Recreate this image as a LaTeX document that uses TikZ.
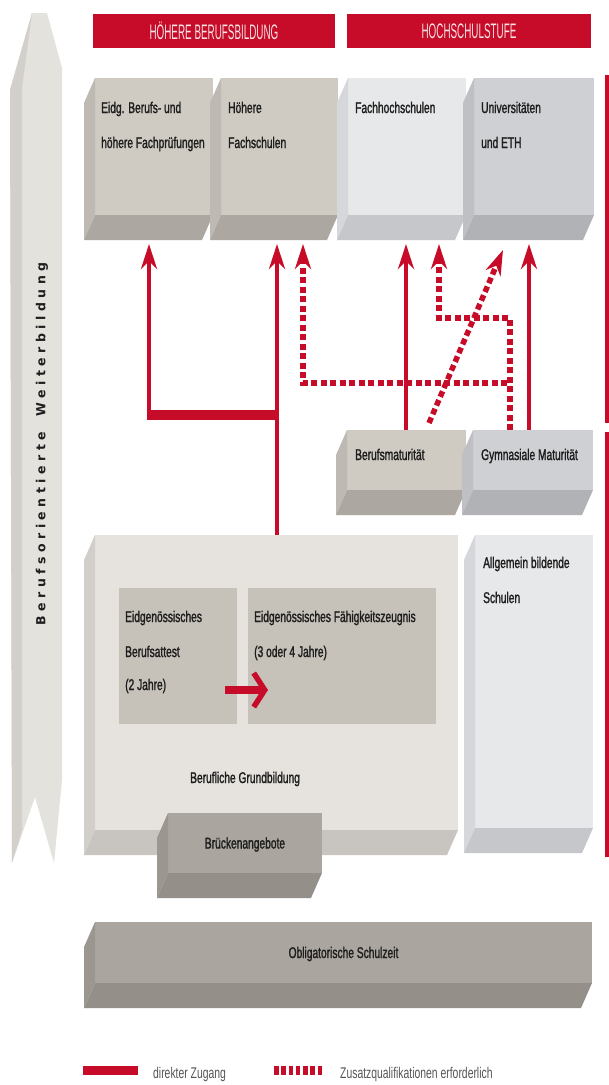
\documentclass[tikz,border=0pt]{standalone}
\usepackage{fontspec}
\setmainfont[FakeStretch=0.66,FakeBold=1.4]{Liberation Sans}
\newfontfamily\legfont[FakeStretch=0.67]{Liberation Sans}
\newfontfamily\headfont[FakeStretch=0.47]{Liberation Sans}
\newfontfamily\vertfont{DejaVu Sans}
\usetikzlibrary{arrows.meta}
\definecolor{chred}{RGB}{198,12,40}
\definecolor{hdrtxt}{RGB}{246,226,229}
\definecolor{txt}{RGB}{30,30,30}
\definecolor{legtxt}{RGB}{85,85,85}
% warm greys
\definecolor{wfront}{RGB}{207,202,194}
\definecolor{wleft}{RGB}{190,185,178}
\definecolor{wbottom}{RGB}{172,167,160}
% light cool
\definecolor{lfront}{RGB}{231,232,234}
\definecolor{lleft}{RGB}{214,215,218}
\definecolor{lbottom}{RGB}{198,199,202}
% mid cool
\definecolor{cfront}{RGB}{206,208,211}
\definecolor{cleft}{RGB}{190,192,195}
\definecolor{cbottom}{RGB}{176,178,181}
% big box
\definecolor{gfront}{RGB}{230,227,222}
\definecolor{gleft}{RGB}{210,207,202}
\definecolor{gbottom}{RGB}{200,197,192}
\definecolor{inner}{RGB}{198,193,185}
% dark warm
\definecolor{dfront}{RGB}{170,165,158}
\definecolor{dleft}{RGB}{155,150,143}
\definecolor{dbottom}{RGB}{148,143,136}
% banner
\definecolor{bfront}{RGB}{228,226,221}
\definecolor{bleft}{RGB}{211,208,203}
\newcommand\boxfaces[3]{%
  \fill[#2] (#1.north west) -- (#1.south west) -- ([shift={(-11,-25)}]#1.south west) -- ([shift={(-11,-25)}]#1.north west) -- cycle;
  \fill[#3] (#1.south west) -- (#1.south east) -- ([shift={(-11,-25)}]#1.south east) -- ([shift={(-11,-25)}]#1.south west) -- cycle;
}
\newcommand\lsp{\kern4.5pt}
\begin{document}
\begin{tikzpicture}[x=1pt,y=1pt,
  face/.style={rectangle, inner sep=0pt, outer sep=0pt, anchor=north west, draw=none},
  hdr/.style={face, fill=chred, minimum height=34pt, text=hdrtxt, font=\headfont\fontsize{21}{21}\selectfont},
  lbl/.style={inner sep=0pt, anchor=base west, text=txt, font=\fontsize{15.5}{18}\selectfont},
  clbl/.style={inner sep=0pt, anchor=base, text=txt, font=\fontsize{15.5}{18}\selectfont},
  leg/.style={inner sep=0pt, anchor=base west, text=legtxt, font=\legfont\fontsize{15.5}{18}\selectfont},
  tip/.style={-{Stealth[length=25pt,width=16pt,inset=8pt]}},
  direct/.style={draw=chred, line width=4.5pt, tip},
  extra/.style={draw=chred, line width=5.5pt, dash pattern=on 6pt off 3.5pt, tip},
]
\useasboundingbox (0,0) rectangle (609,-1085);
\fill[white] (0,0) rectangle (609,-1085);

% left banner
\fill[bfront] (32,-13) -- (47,-13) -- (62,-68) -- (62,-780) -- (54,-863) -- (35,-797) -- (12,-863) -- (10,-90) -- cycle;
\fill[bleft] (32,-13) -- (22,-88) -- (22,-830) -- (12,-863) -- (10,-90) -- cycle;
\node[rotate=90, inner sep=0pt, text=txt, font=\vertfont\bfseries\fontsize{12.5}{14}\selectfont] (banner) at (42,-444)
  {B\lsp e\lsp r\lsp u\lsp f\lsp s\lsp o\lsp r\lsp i\lsp e\lsp n\lsp t\lsp i\lsp e\lsp r\lsp t\lsp e\hspace{15pt}W\lsp e\lsp i\lsp t\lsp e\lsp r\lsp b\lsp i\lsp l\lsp d\lsp u\lsp n\lsp g};

% header bars
\node[hdr, minimum width=242pt] (hbb) at (93,-14) {HÖHERE BERUFSBILDUNG};
\node[hdr, minimum width=244pt] (hhs) at (347,-14) {HOCHSCHULSTUFE};

% top row
\node[face, fill=wfront, minimum width=118pt, minimum height=137pt] (ebf) at (95,-78) {};
\boxfaces{ebf}{wleft}{wbottom}
\node[face, fill=wfront, minimum width=117pt, minimum height=137pt] (hfs) at (221,-78) {};
\boxfaces{hfs}{wleft}{wbottom}
\node[face, fill=lfront, minimum width=118pt, minimum height=137pt] (fhs) at (348,-78) {};
\boxfaces{fhs}{lleft}{lbottom}
\node[face, fill=cfront, minimum width=120pt, minimum height=137pt] (uni) at (474,-78) {};
\boxfaces{uni}{cleft}{cbottom}
\node[lbl] (ebf1) at (101,-113) {Eidg. Berufs- und};
\node[lbl] (ebf2) at (101,-148) {höhere Fachprüfungen};
\node[lbl] (hfs1) at (228,-113) {Höhere};
\node[lbl] (hfs2) at (228,-148) {Fachschulen};
\node[lbl] (fhs1) at (355,-113) {Fachhochschulen};
\node[lbl] (uni1) at (481,-113) {Universitäten};
\node[lbl] (uni2) at (481,-148) {und ETH};

% maturity row
\node[face, fill=wfront, minimum width=119pt, minimum height=60pt] (bm) at (347,-430) {};
\boxfaces{bm}{wleft}{wbottom}
\node[face, fill=cfront, minimum width=120pt, minimum height=60pt] (gm) at (473,-430) {};
\boxfaces{gm}{cleft}{cbottom}
\node[lbl] (bm1) at (355,-460) {Berufsmaturität};
\node[lbl] (gm1) at (481,-460) {Gymnasiale Maturität};

% big box
\node[face, fill=gfront, minimum width=363pt, minimum height=295pt] (grund) at (95,-535) {};
\boxfaces{grund}{gleft}{gbottom}
\node[face, fill=inner, minimum width=118pt, minimum height=136pt] (eba) at (119,-588) {};
\node[face, fill=inner, minimum width=188pt, minimum height=136pt] (efz) at (248,-588) {};
\node[lbl] (eba1) at (125,-622) {Eidgenössisches};
\node[lbl] (eba2) at (125,-657) {Berufsattest};
\node[lbl] (eba3) at (125,-690) {(2 Jahre)};
\node[lbl] (efz1) at (254,-622) {Eidgenössisches Fähigkeitszeugnis};
\node[lbl] (efz2) at (254,-657) {(3 oder 4 Jahre)};
\node[lbl] (grund1) at (190,-783) {Berufliche Grundbildung};

\node[face, fill=lfront, minimum width=118pt, minimum height=293pt] (allg) at (475,-535) {};
\boxfaces{allg}{lleft}{lbottom}
\node[lbl] (allg1) at (483,-568) {Allgemein bildende};
\node[lbl] (allg2) at (483,-603) {Schulen};

\node[face, fill=dfront, minimum width=154pt, minimum height=60pt] (brueck) at (168,-813) {};
\boxfaces{brueck}{dleft}{dbottom}
\node[clbl] (brueck1) at ([yshift=-5.5pt]brueck.center) {Brückenangebote};

\node[face, fill=dfront, minimum width=497pt, minimum height=61pt] (obl) at (95,-922) {};
\boxfaces{obl}{dleft}{dbottom}
\node[clbl] (obl1) at ([yshift=-5.5pt]obl.center) {Obligatorische Schulzeit};

% arrow inside the big box
\coordinate (arS) at (225,-690);
\coordinate (arE) at (268,-690);
\draw[chred, line width=8pt, -{Straight Barb[length=11pt,width=34pt,line width=5.5pt]}] (arS) -- (arE);

% connectors
\coordinate (a1bot) at (149,-415);
\coordinate (a1top) at (149,-244);
\coordinate (jl) at (146.75,-415);
\coordinate (jr) at (279,-415);
\coordinate (a2top) at (277,-244);
\coordinate (a3a) at (507,-383);
\coordinate (a3b) at (303,-383);
\coordinate (a3top) at (303,-244);
\coordinate (a4top) at (406,-244);
\coordinate (a5b) at (510,-318);
\coordinate (a5c) at (439,-318);
\coordinate (a5top) at (439,-244);
\coordinate (a6top) at (529,-244);
\coordinate (dg0) at (429,-423);
\coordinate (dg1) at (503,-250);

\draw[extra] (a3a) -- (a3b) -- (a3top);
\draw[extra] (a5b |- gm.north) -- (a5b) -- (a5c) -- (a5top);
\draw[extra] (dg0) -- (dg1);
\draw[chred, line width=10pt] (jl) -- (jr);
\draw[direct] (a1bot) -- (a1top);
\draw[direct] (a2top |- grund.north) -- (a2top);
\draw[direct] (a4top |- bm.north) -- (a4top);
\draw[direct] (a6top |- gm.north) -- (a6top);

% right brackets
\coordinate (rb1) at (607,-75);
\coordinate (rb2) at (607,-423);
\coordinate (rb3) at (607,-432);
\coordinate (rb4) at (607,-857);
\draw[chred, line width=3.5pt] (rb1) -- (rb2);
\draw[chred, line width=3.5pt] (rb3) -- (rb4);

% legend
\coordinate (l1a) at (83,-1070);
\coordinate (l1b) at (138,-1070);
\coordinate (l2a) at (274,-1070);
\coordinate (l2b) at (324,-1070);
\draw[chred, line width=9pt] (l1a) -- (l1b);
\draw[chred, line width=9pt, dash pattern=on 4.6pt off 2.65pt] (l2a) -- (l2b);
\node[leg] (leg1) at (153,-1078) {direkter Zugang};
\node[leg] (leg2) at (340,-1078) {Zusatzqualifikationen erforderlich};
\end{tikzpicture}
\end{document}
